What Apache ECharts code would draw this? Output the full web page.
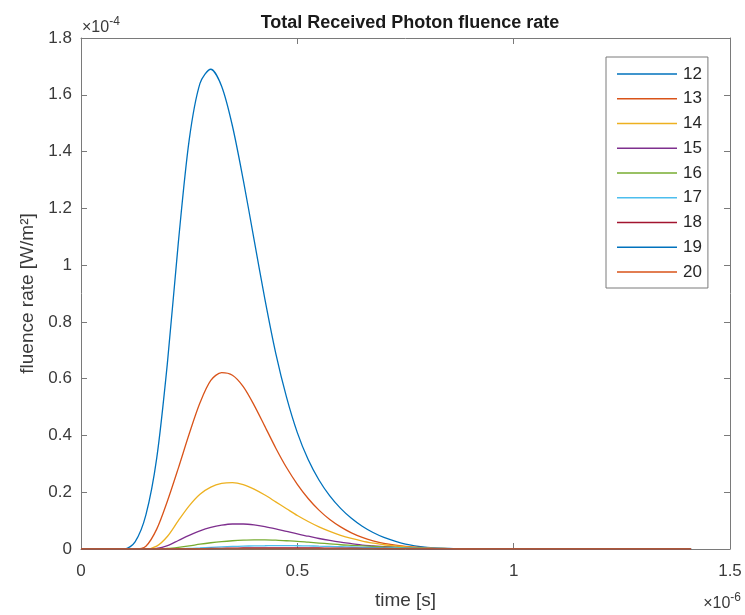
<!DOCTYPE html>
<html>
<head>
<meta charset="utf-8">
<script src="https://cdn.jsdelivr.net/npm/echarts@6/dist/echarts.min.js"></script>
<style>
html,body{margin:0;padding:0;background:#fff;}
#chart{width:745px;height:615px;}
</style>
</head>
<body>
<div id="chart"></div>
<script>
// time in units of 1e-6 s, fluence rate in units of 1e-4 W/m^2
var times = [0, 0.05, 0.1, 0.125, 0.15, 0.175, 0.2, 0.225, 0.25, 0.275, 0.3, 0.325, 0.35, 0.375, 0.4, 0.425, 0.45, 0.475, 0.5, 0.525, 0.55, 0.575, 0.6, 0.625, 0.65, 0.675, 0.7, 0.75, 0.8, 0.85, 0.9, 1.0, 1.1, 1.2, 1.3, 1.41];
var seriesNames = ['12', '13', '14', '15', '16', '17', '18', '19', '20'];
var s12 = [0, 0, 0, 0.025, 0.12, 0.32, 0.66, 1.08, 1.44, 1.64, 1.69, 1.63, 1.49, 1.30, 1.09, 0.88, 0.69, 0.535, 0.41, 0.315, 0.243, 0.187, 0.143, 0.108, 0.080, 0.058, 0.041, 0.017, 0.006, 0.002, 0.0005, 0, 0, 0, 0, 0];
var s13 = [0, 0, 0, 0, 0.01, 0.07, 0.17, 0.285, 0.405, 0.515, 0.594, 0.621, 0.612, 0.572, 0.507, 0.432, 0.356, 0.287, 0.228, 0.178, 0.137, 0.104, 0.078, 0.057, 0.041, 0.029, 0.020, 0.009, 0.004, 0.0015, 0.0005, 0, 0, 0, 0, 0];
var s14 = [0, 0, 0, 0, 0, 0.01, 0.045, 0.10, 0.152, 0.193, 0.218, 0.231, 0.234, 0.227, 0.211, 0.19, 0.166, 0.142, 0.118, 0.097, 0.078, 0.062, 0.048, 0.037, 0.028, 0.021, 0.015, 0.007, 0.003, 0.0015, 0.0005, 0, 0, 0, 0, 0];
var s15 = [0, 0, 0, 0, 0, 0.002, 0.012, 0.03, 0.048, 0.064, 0.076, 0.084, 0.088, 0.088, 0.085, 0.079, 0.071, 0.062, 0.053, 0.045, 0.037, 0.030, 0.024, 0.019, 0.014, 0.011, 0.008, 0.004, 0.002, 0.001, 0.0005, 0, 0, 0, 0, 0];
var s16 = [0, 0, 0, 0, 0, 0, 0.002, 0.006, 0.011, 0.017, 0.022, 0.026, 0.029, 0.031, 0.032, 0.032, 0.031, 0.029, 0.027, 0.024, 0.021, 0.018, 0.015, 0.013, 0.011, 0.009, 0.007, 0.004, 0.002, 0.0015, 0.001, 0.0004, 0, 0, 0, 0];
var s17 = [0, 0, 0, 0, 0, 0, 0, 0.001, 0.002, 0.004, 0.006, 0.0075, 0.009, 0.010, 0.011, 0.0115, 0.012, 0.012, 0.0115, 0.011, 0.010, 0.009, 0.008, 0.007, 0.006, 0.005, 0.004, 0.003, 0.002, 0.0015, 0.001, 0.0004, 0, 0, 0, 0];
var s18 = [0, 0, 0, 0, 0, 0, 0, 0, 0.0005, 0.001, 0.0018, 0.0025, 0.003, 0.0035, 0.0038, 0.004, 0.004, 0.004, 0.004, 0.0038, 0.0035, 0.0032, 0.003, 0.0027, 0.0024, 0.002, 0.0017, 0.0012, 0.0008, 0.0005, 0.0003, 0.0001, 0, 0, 0, 0];
var s19 = [0, 0, 0, 0, 0, 0, 0, 0, 0, 0.0003, 0.0006, 0.0009, 0.0011, 0.0013, 0.0014, 0.0015, 0.0015, 0.0015, 0.0015, 0.0014, 0.0013, 0.0012, 0.0011, 0.001, 0.0009, 0.0008, 0.0007, 0.0005, 0.0003, 0.0002, 0.0001, 0, 0, 0, 0, 0];
var s20 = [0, 0, 0, 0, 0, 0, 0, 0, 0, 0, 0.0001, 0.0002, 0.0003, 0.0004, 0.0005, 0.0005, 0.0005, 0.0005, 0.0005, 0.0005, 0.0005, 0.0004, 0.0004, 0.0004, 0.0003, 0.0003, 0.0003, 0.0002, 0.0001, 0.0001, 0, 0, 0, 0, 0, 0];
var seriesValues = [s12, s13, s14, s15, s16, s17, s18, s19, s20];
var xTickLabels = {0: '0', 0.5: '0.5', 1: '1', 1.5: '1.5'};
var colors = ['#0072BD', '#D95319', '#EDB120', '#7E2F8E', '#77AC30', '#4DBEEE', '#A2142F', '#0072BD', '#D95319'];

var axisCol = '#7a7a7a';
var labelCol = '#3a3a3a';
var FONT = 'Liberation Sans, Arial, sans-serif';

var series = seriesNames.map(function (n, i) {
  return {
    name: n,
    type: 'line',
    xAxisIndex: 0,
    yAxisIndex: 0,
    showSymbol: false,
    smooth: 0.3,
    lineStyle: {width: 1.3, color: colors[i]},
    itemStyle: {color: colors[i]},
    data: times.map(function (t, k) { return [t, seriesValues[i][k]]; })
  };
});

var chart = echarts.init(document.getElementById('chart'), null, {renderer: 'canvas'});
chart.setOption({
  backgroundColor: '#ffffff',
  animation: false,
  color: colors,
  title: {
    text: 'Total Received Photon fluence rate',
    left: 405, top: 9, textAlign: 'center',
    textStyle: {fontFamily: FONT, fontSize: 18, fontWeight: 'bold', color: '#1a1a1a'}
  },
  grid: {left: 81, right: 15, top: 38, bottom: 65, containLabel: false},
  legend: {
    orient: 'vertical',
    left: 606, top: 57,
    data: seriesNames,
    icon: 'rect',
    itemWidth: 60, itemHeight: 1.6,
    itemGap: 4.75,
    padding: [7, 6, 6, 11],
    borderColor: '#7a7a7a', borderWidth: 1,
    backgroundColor: '#fff',
    itemStyle: {borderWidth: 0},
    textStyle: {fontFamily: FONT, fontSize: 17, color: '#262626', lineHeight: 20, padding: [0, 0, 0, 1]}
  },
  xAxis: [{
    type: 'value', min: 0, max: 1.5, interval: 0.5, position: 'bottom',
    name: 'time [s]', nameLocation: 'middle', nameGap: 42,
    nameTextStyle: {fontFamily: FONT, fontSize: 19, color: labelCol},
    axisLine: {show: true, lineStyle: {color: axisCol, width: 1}},
    axisTick: {show: true, inside: true, length: 6, lineStyle: {color: axisCol}},
    axisLabel: {margin: 14, fontFamily: FONT, fontSize: 17, color: labelCol,
      formatter: function (v) { return xTickLabels[v] !== undefined ? xTickLabels[v] : ''; }},
    splitLine: {show: false}
  }, {
    type: 'value', min: 0, max: 1.5, interval: 0.5, position: 'top',
    axisLine: {show: true, onZero: false, lineStyle: {color: axisCol, width: 1}},
    axisTick: {show: true, inside: true, length: 6, lineStyle: {color: axisCol}},
    axisLabel: {show: false}, splitLine: {show: false}
  }],
  yAxis: [{
    type: 'value', min: 0, max: 1.8, interval: 0.2, position: 'left',
    name: 'fluence rate [W/m²]', nameLocation: 'middle', nameGap: 42,
    nameTextStyle: {fontFamily: FONT, fontSize: 19, color: labelCol},
    axisLine: {show: true, lineStyle: {color: axisCol, width: 1}},
    axisTick: {show: true, inside: true, length: 6, lineStyle: {color: axisCol}},
    axisLabel: {margin: 9, fontFamily: FONT, fontSize: 17, color: labelCol,
      formatter: function (v) { return String(Math.round(v * 10) / 10); }},
    splitLine: {show: false}
  }, {
    type: 'value', min: 0, max: 1.8, interval: 0.2, position: 'right',
    axisLine: {show: true, onZero: false, lineStyle: {color: axisCol, width: 1}},
    axisTick: {show: true, inside: true, length: 6, lineStyle: {color: axisCol}},
    axisLabel: {show: false}, splitLine: {show: false}
  }],
  graphic: [{
    type: 'text', left: 82, top: 16,
    style: {
      text: '{a|×10}{b|-4}',
      rich: {
        a: {fontFamily: FONT, fontSize: 16, fill: labelCol, padding: [6, 0, 0, 0]},
        b: {fontFamily: FONT, fontSize: 12, fill: labelCol, padding: [0, 0, 6, 0]}
      }
    }
  }, {
    type: 'text', right: 4, top: 592,
    style: {
      text: '{a|×10}{b|-6}',
      rich: {
        a: {fontFamily: FONT, fontSize: 16, fill: labelCol, padding: [6, 0, 0, 0]},
        b: {fontFamily: FONT, fontSize: 12, fill: labelCol, padding: [0, 0, 6, 0]}
      }
    }
  }],
  series: series
});
</script>
</body>
</html>
